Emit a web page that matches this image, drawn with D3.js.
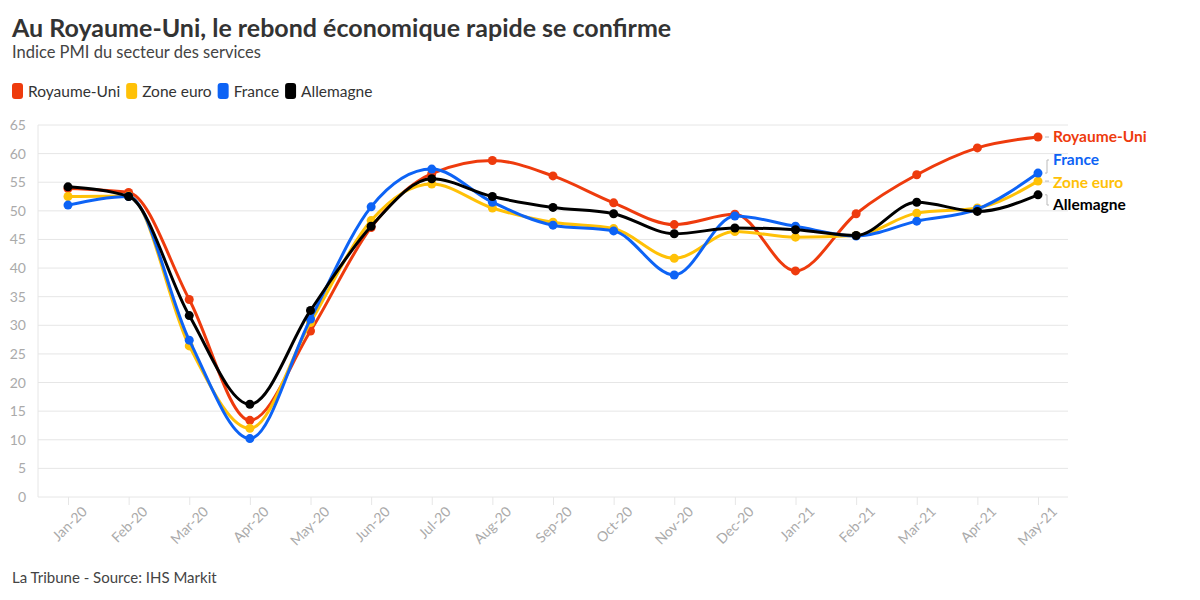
<!DOCTYPE html>
<html>
<head>
<meta charset="utf-8">
<script src="https://cdn.jsdelivr.net/npm/d3@7"></script>
<style>
  body { margin: 0; background: #fff; }
  svg { font-family: "Source Sans Pro", Lato, "Noto Sans", sans-serif; }
</style>
</head>
<body>
<script>
var months = ["Jan-20","Feb-20","Mar-20","Apr-20","May-20","Jun-20","Jul-20","Aug-20","Sep-20","Oct-20","Nov-20","Dec-20","Jan-21","Feb-21","Mar-21","Apr-21","May-21"]
var royaumeUni = [53.9, 53.2, 34.5, 13.4, 29.0, 47.1, 56.5, 58.8, 56.1, 51.4, 47.6, 49.4, 39.5, 49.5, 56.3, 61.0, 62.9]
var zoneEuro   = [52.5, 52.6, 26.4, 12.0, 30.5, 48.3, 54.7, 50.5, 48.0, 46.9, 41.7, 46.4, 45.4, 45.7, 49.6, 50.5, 55.2]
var france     = [51.0, 52.5, 27.4, 10.2, 31.1, 50.7, 57.3, 51.5, 47.5, 46.5, 38.8, 49.1, 47.3, 45.6, 48.2, 50.3, 56.6]
var allemagne  = [54.2, 52.5, 31.7, 16.2, 32.6, 47.3, 55.6, 52.5, 50.6, 49.5, 46.0, 47.0, 46.7, 45.7, 51.5, 49.9, 52.8]
var yTicks = [0, 5, 10, 15, 20, 25, 30, 35, 40, 45, 50, 55, 60, 65]

var series = [
  {name: "Royaume-Uni", values: royaumeUni, color: "#ee3b0d"},
  {name: "Zone euro", values: zoneEuro, color: "#ffc107"},
  {name: "France", values: france, color: "#0d63f5"},
  {name: "Allemagne", values: allemagne, color: "#000000"}
]
var labelY = {"Royaume-Uni": 137, "France": 160, "Zone euro": 183, "Allemagne": 205}

var W = 1200, H = 600
var svg = d3.select("body").append("svg").attr("width", W).attr("height", H)

var x = d3.scalePoint().domain(months).range([68, 1038])
var y = d3.scaleLinear().domain([0, 65]).range([497, 125])

// titles
svg.append("text").attr("x", 12).attr("y", 37)
   .attr("font-size", 25).attr("font-weight", 700).attr("fill", "#333")
   .text("Au Royaume-Uni, le rebond économique rapide se confirme")
svg.append("text").attr("x", 12).attr("y", 58)
   .attr("font-size", 16.5).attr("fill", "#444")
   .text("Indice PMI du secteur des services")

// legend
var lx = 12
series.forEach(s => {
  var g = svg.append("g").attr("transform", "translate(" + lx + ",83)")
  g.append("rect").attr("width", 11).attr("height", 16).attr("rx", 3).attr("fill", s.color)
  var t = g.append("text").attr("x", 16).attr("y", 13.5).attr("font-size", 15.5).attr("fill", "#333").text(s.name)
  lx += 16 + t.node().getComputedTextLength() + 6
})

// grid
svg.append("g").selectAll("line").data(yTicks).enter().append("line")
   .attr("x1", 38).attr("x2", 1068)
   .attr("y1", d => y(d)).attr("y2", d => y(d))
   .attr("stroke", "#e6e6e6").attr("stroke-width", 1)
svg.append("line").attr("x1", 38).attr("x2", 38).attr("y1", y(65)).attr("y2", y(0))
   .attr("stroke", "#e6e6e6")

var yAxis = svg.append("g").attr("transform", "translate(26,0)")
   .call(d3.axisLeft(y).tickValues(yTicks).tickSize(0).tickPadding(0))
yAxis.select(".domain").remove()
yAxis.selectAll("text").attr("font-size", 14).attr("fill", "#aaa")
   .attr("font-family", "\"Source Sans Pro\", Lato, \"Noto Sans\", sans-serif")

var xAxis = svg.append("g").attr("transform", "translate(0," + y(0) + ")")
   .call(d3.axisBottom(x).tickSize(8).tickPadding(4))
xAxis.select(".domain").remove()
xAxis.selectAll("line").attr("stroke", "#e6e6e6")
xAxis.selectAll("text").attr("font-size", 14).attr("fill", "#aaa")
   .attr("font-family", "\"Source Sans Pro\", Lato, \"Noto Sans\", sans-serif")
   .attr("text-anchor", "end").attr("dx", "0.2em").attr("dy", "0.9em")
   .attr("transform", "rotate(-45)")

// lines
var line = d3.line().x((d, i) => x(months[i])).y(d => y(d)).curve(d3.curveMonotoneX)
series.forEach(s => {
  svg.append("path").datum(s.values).attr("d", line)
     .attr("fill", "none").attr("stroke", s.color).attr("stroke-width", 3)
  svg.append("g").selectAll("circle").data(s.values).enter().append("circle")
     .attr("cx", (d, i) => x(months[i])).attr("cy", d => y(d)).attr("r", 4.5)
     .attr("fill", s.color)
})

// end labels with leaders
series.forEach(s => {
  var vy = y(s.values[s.values.length - 1]), ly = labelY[s.name]
  if (Math.abs(vy - ly) < 3) {
    svg.append("line").attr("x1", 1045).attr("x2", 1049).attr("y1", vy).attr("y2", vy)
       .attr("stroke", "#bbb")
  } else {
    svg.append("path")
       .attr("d", "M1045," + vy + "H1047V" + ly + "H1049")
       .attr("fill", "none").attr("stroke", "#bbb")
  }
  svg.append("text").attr("x", 1053).attr("y", ly).attr("dy", "0.35em")
     .attr("font-size", 15.5).attr("font-weight", 700).attr("fill", s.color)
     .text(s.name)
})

svg.append("text").attr("x", 12).attr("y", 583)
   .attr("font-size", 15).attr("fill", "#444")
   .text("La Tribune - Source: IHS Markit")
</script>
</body>
</html>
